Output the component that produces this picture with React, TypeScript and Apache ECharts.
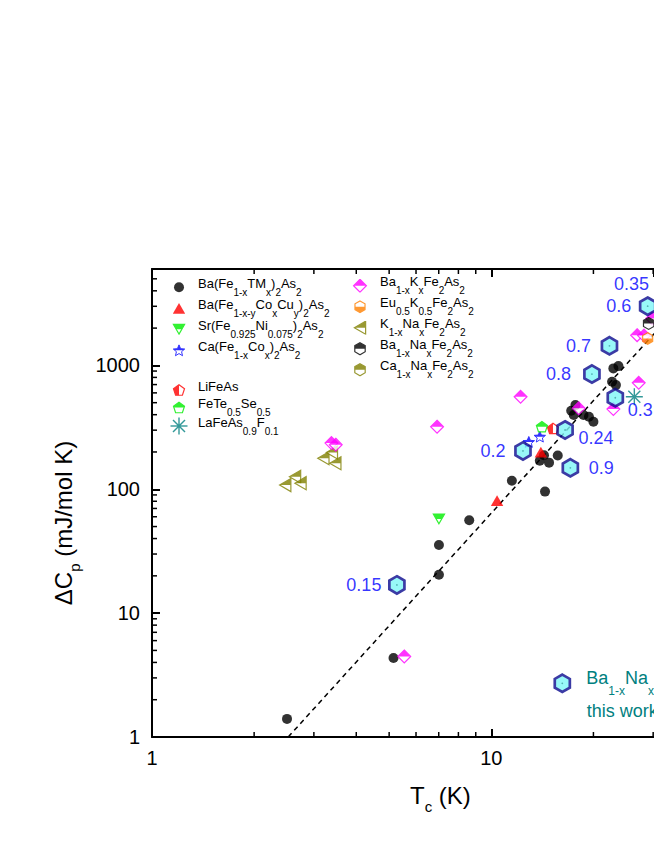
import React, { useEffect, useRef } from 'react';
import * as echarts from 'echarts';

const FONT = '"Liberation Sans", Arial, Helvetica, sans-serif';

// ---------------- Data: [Tc (K), ΔCp (mJ/mol K)] ----------------
const baTM = [
  [2.50, 1.40], [5.15, 4.34], [7.01, 20.4], [7.01, 35.5], [8.61, 56.3], [11.5, 117],
  [13.9, 170], [14.3, 188], [14.8, 164], [15.7, 187], [14.4, 95.7],
  [17.2, 430], [17.5, 398], [17.7, 478], [18.7, 398], [19.4, 385], [20.0, 351],
  [22.7, 738], [23.3, 693], [22.9, 946], [23.7, 987],
];
const baCoCu = [[10.4, 80.9], [14.0, 199]];
const srNi = [[7.01, 57.6]];
const caCo = [[13.9, 266], [12.9, 241]];
const liFeAs = [[15.2, 310]];
const feTeSe = [[14.1, 320]];
const laFeAsF = [[26.4, 558]];
const baK = [
  [3.38, 236], [3.48, 229], [5.54, 4.47], [6.92, 320], [12.2, 558], [18.1, 450],
  [22.9, 444], [27.2, 724], [26.9, 1755], [28.2, 1740], [29.8, 2390],
];
const euK = [[28.9, 1651]];
const kNa = [[2.47, 108], [2.64, 126], [2.74, 112], [3.20, 178], [3.39, 198], [3.47, 162]];
const baNaLit = [[29.1, 2182]];
const caNaLit: number[][] = [];
const thisWork = [
  [5.27, 16.9], [12.4, 204], [16.5, 301], [23.2, 548], [34, 4400],
  [28.9, 3007], [22.3, 1439], [19.8, 851], [17.1, 149],
];
const thisWorkX = ['0.15', '0.2', '0.24', '0.3', '0.35', '0.6', '0.7', '0.8', '0.9'];
const fitLine = [[2.52, 1], [45, 6000]];

const xMinor = [2, 3, 4, 5, 6, 7, 8, 9, 20, 30];
const yMinor = [2, 3, 4, 5, 6, 7, 8, 9, 20, 30, 40, 50, 60, 70, 80, 90,
  200, 300, 400, 500, 600, 700, 800, 900, 2000, 3000, 4000, 5000];

// visible window of the (wider) original frame
const X_MIN = 1, X_MAX = 30.17, Y_MIN = 1, Y_MAX = 6000;

const LABELS: Record<string, string> = {
  baTM: 'Ba(Fe_{1-x}TM_{x})_{2}As_{2}',
  baCoCu: 'Ba(Fe_{1-x-y}Co_{x}Cu_{y})_{2}As_{2}',
  srNi: 'Sr(Fe_{0.925}Ni_{0.075})_{2}As_{2}',
  caCo: 'Ca(Fe_{1-x}Co_{x})_{2}As_{2}',
  liFeAs: 'LiFeAs',
  feTeSe: 'FeTe_{0.5}Se_{0.5}',
  laFeAsF: 'LaFeAs_{0.9}F_{0.1}',
  baK: 'Ba_{1-x}K_{x}Fe_{2}As_{2}',
  euK: 'Eu_{0.5}K_{0.5}Fe_{2}As_{2}',
  kNa: 'K_{1-x}Na_{x}Fe_{2}As_{2}',
  baNaLit: 'Ba_{1-x}Na_{x}Fe_{2}As_{2}',
  caNaLit: 'Ca_{1-x}Na_{x}Fe_{2}As_{2}',
  thisWork: 'Ba_{1-x}Na_{x}Fe_{2}As_{2}',
};

// label placement for "this work" points (style, kept apart from data)
const labelPlace: Record<string, { pos: string; d: number; dy: number }> = {
  '0.15': { pos: 'left', d: 3, dy: 0 },
  '0.2': { pos: 'left', d: 5, dy: 0 },
  '0.24': { pos: 'right', d: 1, dy: 8 },
  '0.3': { pos: 'right', d: 0, dy: 12 },
  '0.35': { pos: 'left', d: 10, dy: -2 },
  '0.6': { pos: 'left', d: 4, dy: 0 },
  '0.7': { pos: 'left', d: 6, dy: 0 },
  '0.8': { pos: 'left', d: 8.5, dy: 0 },
  '0.9': { pos: 'right', d: 6, dy: 0 },
};

// ---------------- Symbols ----------------
interface SymDef { shape: string; color: string; fill: string; r: number; sw: number; stroke?: string; dot?: string }
const SYM: Record<string, SymDef> = {
  baTM: { shape: 'circle', color: '#000000', fill: 'full', r: 5, sw: 0 },
  baCoCu: { shape: 'triUp', color: '#ff0000', fill: 'full', r: 6.2, sw: 0 },
  srNi: { shape: 'triDown', color: '#00ee00', fill: 'top', r: 5.6, sw: 1.2 },
  caCo: { shape: 'star', color: '#0000ff', fill: 'top', r: 6, sw: 1 },
  liFeAs: { shape: 'pentagon', color: '#ff0000', fill: 'left', r: 5.8, sw: 1.2 },
  feTeSe: { shape: 'pentagon', color: '#00ee00', fill: 'top', r: 5.8, sw: 1.2 },
  laFeAsF: { shape: 'asterisk', color: '#008080', fill: 'full', r: 8.5, sw: 1.4 },
  baK: { shape: 'diamond', color: '#ff00ff', fill: 'top', r: 6.4, sw: 1.2 },
  euK: { shape: 'hexagon', color: '#ff8000', fill: 'bottom', r: 5.8, sw: 1.2 },
  kNa: { shape: 'triLeft', color: '#808000', fill: 'top', r: 6.5, sw: 1.2 },
  baNaLit: { shape: 'hexagon', color: '#000000', fill: 'top', r: 6, sw: 1.2 },
  caNaLit: { shape: 'hexagon', color: '#808000', fill: 'top', r: 6, sw: 1.2 },
  thisWork: { shape: 'hexagon', color: '#7ff7f7', stroke: '#0b0b8f', fill: 'full', r: 8.7, sw: 2.7, dot: '#2aa0a0' },
};

const f = (v: number) => v.toFixed(2);

function polyPoints(shape: string, cx: number, cy: number, r: number): number[][] {
  const h = 0.866 * r;
  const pts: number[][] = [];
  switch (shape) {
    case 'triUp': return [[cx, cy - h], [cx + r, cy + h], [cx - r, cy + h]];
    case 'triDown': return [[cx, cy + h], [cx + r, cy - h], [cx - r, cy - h]];
    case 'triLeft': return [[cx - h, cy], [cx + h, cy - r], [cx + h, cy + r]];
    case 'diamond': return [[cx, cy - r], [cx + r, cy], [cx, cy + r], [cx - r, cy]];
    case 'pentagon':
      for (let k = 0; k < 5; k++) {
        const a = (-90 + 72 * k) * Math.PI / 180;
        pts.push([cx + r * Math.cos(a), cy + 0.095 * r + r * Math.sin(a)]);
      }
      return pts;
    case 'hexagon':
      for (let k = 0; k < 6; k++) {
        const a = (-90 + 60 * k) * Math.PI / 180;
        pts.push([cx + r * Math.cos(a), cy + r * Math.sin(a)]);
      }
      return pts;
    case 'star':
      for (let k = 0; k < 10; k++) {
        const a = (-90 + 36 * k) * Math.PI / 180;
        const rr = k % 2 ? 0.45 * r : r;
        pts.push([cx + rr * Math.cos(a), cy + 0.095 * r + rr * Math.sin(a)]);
      }
      return pts;
  }
  return pts;
}

function symbolSvg(d: SymDef, W: number, H: number): string {
  const cx = W / 2, cy = H / 2;
  const stroke = d.stroke || d.color;
  let parts = '';
  if (d.shape === 'asterisk') {
    for (const a of [0, 45, 90, 135]) {
      const rad = a * Math.PI / 180;
      const dx = Math.cos(rad) * d.r, dy = Math.sin(rad) * d.r;
      parts += `<line x1="${f(cx - dx)}" y1="${f(cy - dy)}" x2="${f(cx + dx)}" y2="${f(cy + dy)}" stroke="${d.color}" stroke-width="${d.sw}"/>`;
    }
    parts += `<circle cx="${f(cx)}" cy="${f(cy)}" r="1.7" fill="${d.color}"/>`;
  } else {
    const pts = d.shape === 'circle' ? '' : polyPoints(d.shape, cx, cy, d.r).map((p) => `${f(p[0])},${f(p[1])}`).join(' ');
    const geo = (attrs: string) => d.shape === 'circle'
      ? `<circle cx="${f(cx)}" cy="${f(cy)}" r="${d.r}" ${attrs}/>`
      : `<polygon points="${pts}" ${attrs}/>`;
    const strokeAttr = `stroke="${stroke}" stroke-width="${d.sw}" stroke-linejoin="miter" stroke-miterlimit="10"`;
    if (d.fill === 'full') {
      parts = geo(`fill="${d.color}" ${d.sw > 0 ? strokeAttr : ''}`);
    } else {
      let rect = '';
      if (d.fill === 'top') rect = `<rect x="0" y="0" width="${W}" height="${f(cy)}"/>`;
      else if (d.fill === 'bottom') rect = `<rect x="0" y="${f(cy)}" width="${W}" height="${f(H - cy)}"/>`;
      else rect = `<rect x="0" y="0" width="${f(cx)}" height="${H}"/>`;
      parts = `<defs><clipPath id="h">${rect}</clipPath></defs>` +
        geo('fill="#ffffff"') +
        geo(`fill="${d.color}" clip-path="url(#h)"`) +
        geo(`fill="none" ${strokeAttr}`);
    }
    if (d.dot) parts += `<circle cx="${f(cx)}" cy="${f(cy)}" r="0.9" fill="${d.dot}"/>`;
  }
  return `<svg xmlns="http://www.w3.org/2000/svg" width="${W}" height="${H}" viewBox="0 0 ${W} ${H}">${parts}</svg>`;
}

const toImg = (svg: string) => 'image://data:image/svg+xml;charset=utf-8,' + encodeURIComponent(svg);
const symSize = (d: SymDef) => Math.ceil(2 * (d.r + d.sw + 1));
const plotSymbol = (key: string) => {
  const d = SYM[key];
  const S = symSize(d);
  return { symbol: toImg(symbolSvg(d, S, S)), symbolSize: S };
};
const legendIcon = (key: string, W: number, H: number) => toImg(symbolSvg(SYM[key], W, H));

function toRich(s: string): string {
  const parts = s.split(/_\{([^}]*)\}/);
  return parts.map((p, i) => (p === '' ? '' : `{${i % 2 ? 's' : 'm'}|${p}}`)).join('');
}

const decadeFmt = (v: number) => {
  const l = Math.log10(v);
  return Math.abs(l - Math.round(l)) < 1e-6 ? String(Math.round(v)) : '';
};

const richSmall = {
  m: { fontFamily: FONT, fontSize: 13, color: '#000', lineHeight: 21, verticalAlign: 'top' },
  s: { fontFamily: FONT, fontSize: 10, color: '#000', lineHeight: 10, padding: [10.5, 0, 0, 0], verticalAlign: 'top' },
};
const richBig = {
  m: { fontFamily: FONT, fontSize: 18, color: '#008080', lineHeight: 29, verticalAlign: 'top' },
  s: { fontFamily: FONT, fontSize: 12, color: '#008080', lineHeight: 12, padding: [16, 0, 0, 0], verticalAlign: 'top' },
};
const richAxis = {
  m: { fontFamily: FONT, fontSize: 24, fill: '#000', lineHeight: 28, verticalAlign: 'top' },
  s: { fontFamily: FONT, fontSize: 15, fill: '#000', lineHeight: 15, padding: [16, 0, 0, 0], verticalAlign: 'top' },
};

function makeLegend(keys: string[], left: number, top: number, W: number, H: number, gap: number, rich: any) {
  return {
    orient: 'vertical', left, top, padding: 0, itemGap: gap, itemWidth: W, itemHeight: H,
    selectedMode: false,
    data: keys.map((k) => ({ name: k, icon: legendIcon(k, W, H) })),
    formatter: (name: string) => toRich(LABELS[name] || name),
    textStyle: { fontFamily: FONT, fontSize: 13, color: '#000', rich },
  };
}

function scatter(key: string, data: number[][]) {
  return { type: 'scatter', name: key, data, ...plotSymbol(key), z: 3 };
}

export default function App() {
  const ref = useRef<HTMLDivElement>(null);
  useEffect(() => {
    const chart = echarts.init(ref.current!, null, { renderer: 'svg' });
    const axisLine = { show: true, onZero: false, lineStyle: { color: '#000', width: 2 } };
    const axisTick = { show: true, inside: true, length: 8, lineStyle: { color: '#000', width: 2 } };
    const labelStyle = { color: '#000', fontSize: 20, fontFamily: FONT, formatter: decadeFmt, showMaxLabel: false };
    const tw = SYM.thisWork;
    const twS = symSize(tw);

    const option: any = {
      animation: false,
      backgroundColor: '#ffffff',
      grid: { left: 152, top: 269, width: 502, height: 468, containLabel: false },
      xAxis: [
        { type: 'log', min: X_MIN, max: X_MAX, position: 'bottom', axisLine, axisTick,
          axisLabel: { ...labelStyle, margin: 11 }, splitLine: { show: false } },
        { type: 'log', min: X_MIN, max: X_MAX, position: 'top', axisLine, axisTick,
          axisLabel: { show: false }, splitLine: { show: false } },
      ],
      yAxis: [
        { type: 'log', min: Y_MIN, max: Y_MAX, position: 'left', axisLine, axisTick,
          axisLabel: { ...labelStyle, margin: 12 }, splitLine: { show: false } },
      ],
      legend: [
        makeLegend(['baTM', 'baCoCu', 'srNi', 'caCo'], 165, 276.8, 28, 14, 0.5, richSmall),
        makeLegend(['liFeAs', 'feTeSe', 'laFeAsF'], 165, 379.5, 28, 18, -2, richSmall),
        makeLegend(['baK', 'euK', 'kNa', 'baNaLit', 'caNaLit'], 345, 275.2, 30, 14, 0.5, richSmall),
        { ...makeLegend(['thisWork'], 543.3, 668.8, 38, 26, 0, richBig),
          textStyle: { fontFamily: FONT, fontSize: 18, color: '#008080', rich: richBig } },
      ],
      graphic: [
        { type: 'text', x: 410, y: 783, z: 10,
          style: { text: toRich('T_{c} (K)'), rich: richAxis, fill: '#000', fontFamily: FONT, fontSize: 24,
            align: 'left', verticalAlign: 'top' } },
        { type: 'text', x: 51, y: 523, rotation: Math.PI / 2, z: 10,
          style: { text: toRich('ΔC_{p} (mJ/mol K)'), rich: richAxis, fill: '#000', fontFamily: FONT, fontSize: 24,
            align: 'center', verticalAlign: 'top' } },
        { type: 'text', x: 586.7, y: 711, z: 10,
          style: { text: 'this work', fill: '#008080', fontFamily: FONT, fontSize: 18,
            align: 'left', verticalAlign: 'middle' } },
      ],
      series: [
        { type: 'line', name: 'fit', data: fitLine, showSymbol: false, symbol: 'none', z: 1,
          lineStyle: { color: '#000', width: 1.5, type: [5, 4] }, silent: true },
        scatter('baTM', baTM),
        scatter('baCoCu', baCoCu),
        scatter('srNi', srNi),
        scatter('caCo', caCo),
        scatter('liFeAs', liFeAs),
        scatter('feTeSe', feTeSe),
        scatter('kNa', kNa),
        scatter('baK', baK),
        scatter('euK', euK),
        scatter('baNaLit', baNaLit),
        scatter('caNaLit', caNaLit),
        scatter('laFeAsF', laFeAsF),
        {
          type: 'scatter', name: 'thisWork', z: 4, clip: false,
          symbol: toImg(symbolSvg(tw, twS, twS)), symbolSize: twS,
          data: thisWork.map((v, i) => {
            const lab = thisWorkX[i];
            const p = labelPlace[lab];
            return { value: v, name: lab, label: { position: p.pos, distance: p.d, offset: [0, p.dy] } };
          }),
          label: { show: true, formatter: '{b}', color: '#0000ff', fontSize: 18, fontFamily: FONT },
        },
        {
          type: 'custom', name: 'xMinor', silent: true, z: 5,
          data: xMinor.map((v) => [v, Y_MIN]),
          renderItem: (_p: any, api: any) => {
            const b = api.coord([api.value(0), Y_MIN]);
            const t = api.coord([api.value(0), Y_MAX]);
            const st = { stroke: '#000', lineWidth: 1.5 };
            return { type: 'group', children: [
              { type: 'line', shape: { x1: b[0], y1: b[1], x2: b[0], y2: b[1] - 5 }, style: st },
              { type: 'line', shape: { x1: t[0], y1: t[1], x2: t[0], y2: t[1] + 5 }, style: st },
            ] };
          },
        },
        {
          type: 'custom', name: 'yMinor', silent: true, z: 5,
          data: yMinor.map((v) => [X_MIN, v]),
          renderItem: (_p: any, api: any) => {
            const l = api.coord([X_MIN, api.value(1)]);
            const st = { stroke: '#000', lineWidth: 1.5 };
            return { type: 'line', shape: { x1: l[0], y1: l[1], x2: l[0] + 5, y2: l[1] }, style: st };
          },
        },
      ],
    };
    chart.setOption(option);
    return () => chart.dispose();
  }, []);
  return <div ref={ref} style={{ position: 'absolute', left: 0, top: 0, width: 654, height: 846 }} />;
}
